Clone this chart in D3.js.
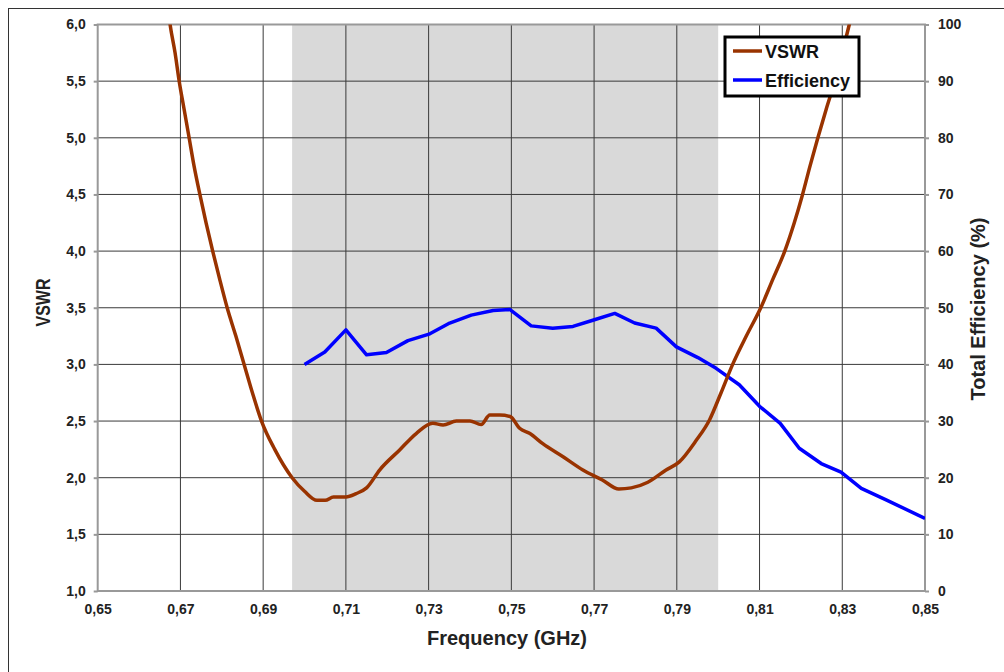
<!DOCTYPE html>
<html><head><meta charset="utf-8">
<script src="https://cdn.jsdelivr.net/npm/d3@7"></script>
<style>body{margin:0;background:#fff;}svg{display:block;font-family:"Liberation Sans",Arial,sans-serif;}</style>
</head><body>
<script>
const xTicks = [0.65,0.67,0.69,0.71,0.73,0.75,0.77,0.79,0.81,0.83,0.85];
const yLeftTicks = [1.0,1.5,2.0,2.5,3.0,3.5,4.0,4.5,5.0,5.5,6.0];
const yRightTicks = [0,10,20,30,40,50,60,70,80,90,100];
const bandRange = [0.697, 0.800];
const vswrFreq = [0.6668,0.6675,0.6687,0.6697,0.6709,0.6721,0.6733,0.6747,0.6762,0.6778,0.6795,0.6813,0.6834,0.6854,0.6874,0.6896,0.6928,0.697,0.700,0.703,0.705,0.707,0.710,0.7125,0.715,0.7182,0.723,0.727,0.731,0.7335,0.7367,0.740,0.7427,0.7448,0.7472,0.7497,0.752,0.7545,0.7576,0.7625,0.7673,0.772,0.776,0.779,0.783,0.7874,0.7906,0.7947,0.7979,0.8007,0.8035,0.8068,0.8103,0.8132,0.8161,0.8184,0.8204,0.8222,0.8241,0.8261,0.8282,0.8300,0.8317,0.8324];
const vswrVals = [6.2,6.0,5.75,5.5,5.25,5.0,4.75,4.5,4.25,4.0,3.75,3.5,3.25,3.0,2.75,2.5,2.25,2.0,1.88,1.80,1.80,1.83,1.83,1.86,1.91,2.07,2.245,2.39,2.48,2.465,2.50,2.50,2.47,2.553,2.553,2.54,2.436,2.39,2.30,2.185,2.068,1.98,1.90,1.91,1.96,2.068,2.14,2.33,2.51,2.75,3.0,3.25,3.5,3.75,4.0,4.25,4.5,4.75,5.0,5.25,5.5,5.75,6.0,6.1];
const effFreq = [0.700,0.7049,0.710,0.715,0.7198,0.725,0.7303,0.7351,0.7403,0.7456,0.7496,0.7548,0.760,0.7649,0.7697,0.775,0.7798,0.785,0.7899,0.7951,0.7995,0.8051,0.810,0.815,0.8196,0.8249,0.8297,0.8346,0.8406,0.850];
const effVals = [40.0,42.2,46.1,41.7,42.1,44.2,45.4,47.3,48.7,49.5,49.7,46.8,46.4,46.7,47.8,49.0,47.3,46.4,43.1,41.2,39.3,36.4,32.6,29.6,25.2,22.5,21.0,18.1,16.1,12.8];
const seriesNames = ["VSWR","Efficiency"];
const seriesColors = ["#993300","#0000ff"];

const W=1004,H=672;
const m={l:97.7,r:1004-925,t:24.5,b:672-591};
const svg=d3.select("body").append("svg").attr("width",W).attr("height",H);
svg.append("rect").attr("x",8.5).attr("y",8.5).attr("width",1010).attr("height",700).attr("fill","none").attr("stroke","#333").attr("stroke-width",1);

const x=d3.scaleLinear().domain([0.65,0.85]).range([m.l,W-m.r]);
const yL=d3.scaleLinear().domain([1,6]).range([H-m.b,m.t]);
const yR=d3.scaleLinear().domain([0,100]).range([H-m.b,m.t]);
const loc=d3.formatLocale({decimal:",",thousands:".",grouping:[3],currency:["","€"]});
const f2=loc.format(".2f"), f1=loc.format(".1f"), f0=loc.format("d");

// band
svg.append("rect").attr("x",x(bandRange[0])).attr("y",m.t).attr("width",x(bandRange[1])-x(bandRange[0])).attr("height",yL(1)-yL(6)).attr("fill","#d9d9d9");

// grid
const g=svg.append("g");
g.selectAll(".hg").data(yLeftTicks.slice(1,-1)).join("line").attr("x1",x(0.65)).attr("x2",x(0.85)).attr("y1",d=>yL(d)).attr("y2",d=>yL(d)).attr("stroke","#3a3a3a").attr("stroke-width",1);
g.selectAll(".vg").data(xTicks.slice(1,-1)).join("line").attr("y1",yL(1)).attr("y2",yL(6)).attr("x1",d=>x(d)).attr("x2",d=>x(d)).attr("stroke","#3a3a3a").attr("stroke-width",1);

// frame
svg.append("rect").attr("x",x(0.65)).attr("y",yL(6)).attr("width",x(0.85)-x(0.65)).attr("height",yL(1)-yL(6)).attr("fill","none").attr("stroke","#999").attr("stroke-width",2);

// axes
const axL=svg.append("g").attr("transform",`translate(${x(0.65)},0)`).call(d3.axisLeft(yL).tickValues(yLeftTicks).tickFormat(f1).tickSize(4).tickPadding(8));
const axR=svg.append("g").attr("transform",`translate(${x(0.85)},0)`).call(d3.axisRight(yR).tickValues(yRightTicks).tickFormat(f0).tickSize(4).tickPadding(9));
const axB=svg.append("g").attr("transform",`translate(0,${yL(1)})`).call(d3.axisBottom(x).tickValues(xTicks).tickFormat(f2).tickSize(0).tickPadding(13));
[axL,axR,axB].forEach(a=>{a.select(".domain").remove();a.selectAll("line").attr("stroke","#999").attr("stroke-width",2);a.selectAll("text").attr("font-size",14).attr("font-weight","bold").attr("fill","#222").attr("font-family","Liberation Sans, Arial, sans-serif");});

// clip
svg.append("clipPath").attr("id","clip").append("rect").attr("x",x(0.65)).attr("y",yL(6)).attr("width",x(0.85)-x(0.65)).attr("height",yL(1)-yL(6));
const lv=d3.line().x((d,i)=>x(vswrFreq[i])).y(d=>yL(d)).curve(d3.curveMonotoneX);
const le=d3.line().x((d,i)=>x(effFreq[i])).y(d=>yR(d));
const cg=svg.append("g").attr("clip-path","url(#clip)");
cg.append("path").datum(effVals).attr("d",le).attr("fill","none").attr("stroke",seriesColors[1]).attr("stroke-width",3.5).attr("stroke-linejoin","round");
cg.append("path").datum(vswrVals).attr("d",lv).attr("fill","none").attr("stroke",seriesColors[0]).attr("stroke-width",3.5).attr("stroke-linejoin","round");

// titles
svg.append("text").attr("x",507).attr("y",645).attr("text-anchor","middle").attr("font-size",20).attr("font-weight","bold").attr("fill","#222").text("Frequency (GHz)");
svg.append("text").attr("transform","translate(50,302.5) rotate(-90)").attr("text-anchor","middle").attr("font-size",20).attr("font-weight","bold").attr("fill","#222").attr("textLength",48).attr("lengthAdjust","spacingAndGlyphs").text("VSWR");
svg.append("text").attr("transform","translate(985,309) rotate(-90)").attr("text-anchor","middle").attr("font-size",20).attr("font-weight","bold").attr("fill","#222").text("Total Efficiency (%)");

// legend
const lg=svg.append("g");
lg.append("rect").attr("x",725).attr("y",37).attr("width",134).attr("height",59).attr("fill","#fff").attr("stroke","#000").attr("stroke-width",3);
seriesNames.forEach((n,i)=>{
  const yy=51+i*29;
  lg.append("line").attr("x1",733).attr("x2",762).attr("y1",yy).attr("y2",yy).attr("stroke",seriesColors[i]).attr("stroke-width",3.5);
  lg.append("text").attr("x",765).attr("y",yy+6.5).attr("font-size",18).attr("font-weight","bold").attr("fill","#111").text(n);
});
</script>
</body></html>
